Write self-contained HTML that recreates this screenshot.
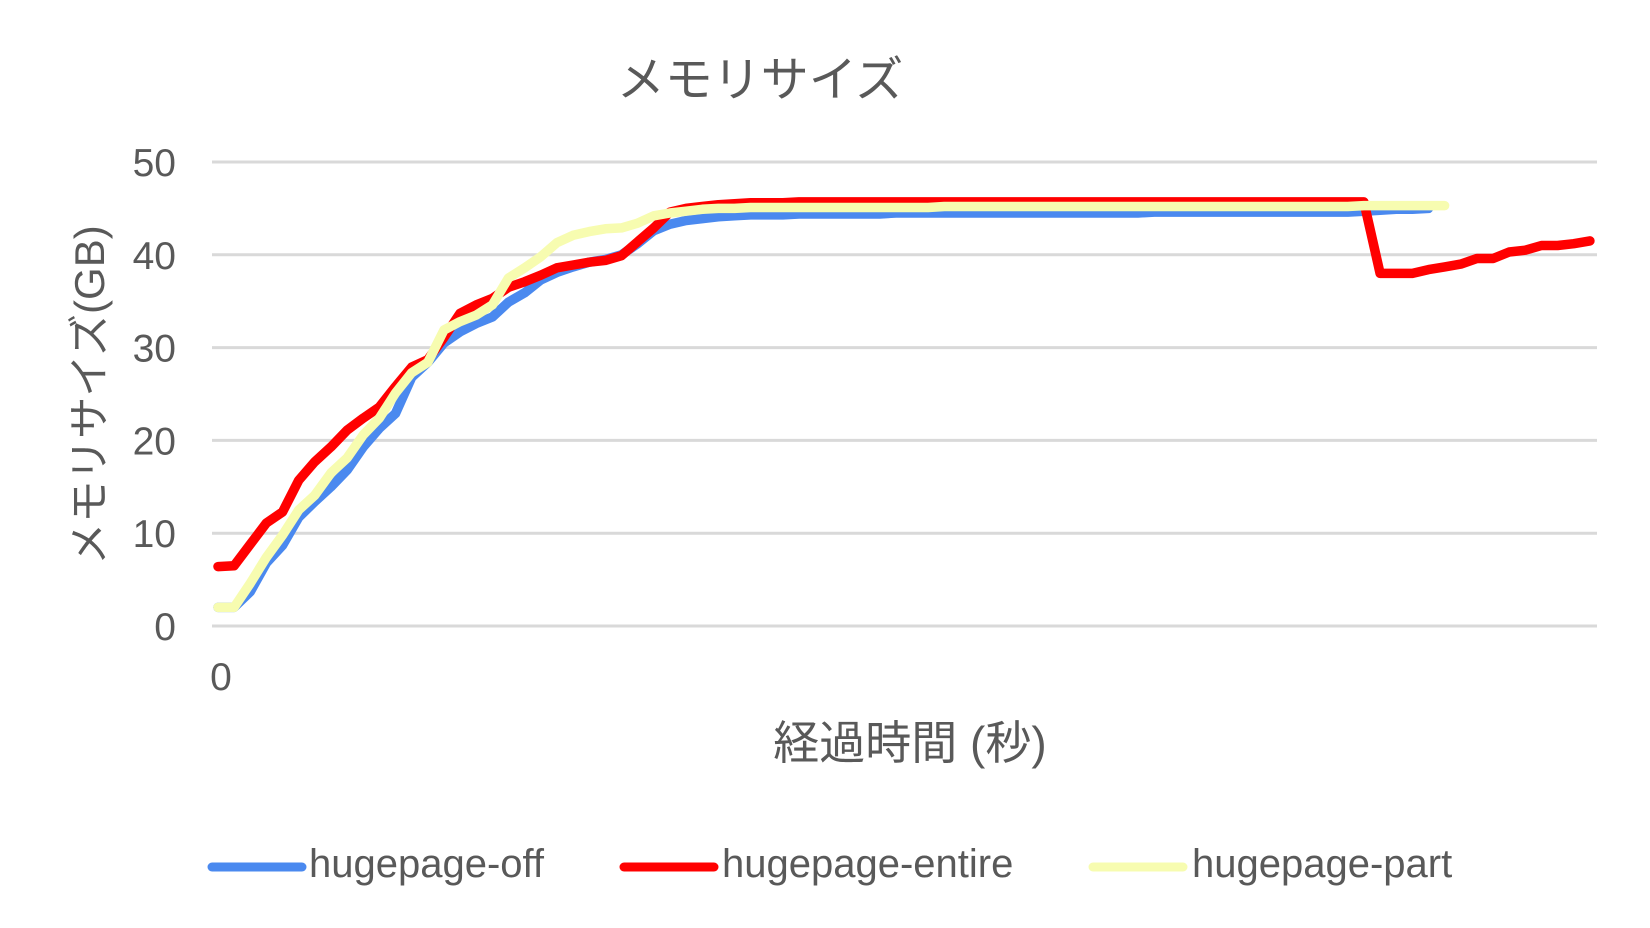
<!DOCTYPE html>
<html><head><meta charset="utf-8"><style>
html,body{margin:0;padding:0;background:#fff;}
svg{display:block;font-family:"Liberation Sans","Noto Sans CJK JP",sans-serif;}
</style></head><body>
<svg id="chart" width="1650" height="928" viewBox="0 0 1650 928">
<text x="760" y="96" font-size="48" fill="#595959" text-anchor="middle">メモリサイズ</text>
<g id="grid"></g>
<g id="yticks"></g>
<text x="221" y="690" font-size="39" fill="#595959" text-anchor="middle">0</text>
<text x="910" y="759" font-size="46" fill="#595959" text-anchor="middle">経過時間 (秒)</text>
<text transform="translate(104,395) rotate(-90)" font-size="42" fill="#595959" text-anchor="middle">メモリサイズ(GB)</text>
<g id="series"></g>
<g>
<g><line x1="212" y1="867" x2="302" y2="867" stroke="#4a89ef" stroke-width="9" stroke-linecap="round"/><text x="309" y="877" font-size="40" fill="#595959">hugepage-off</text></g>
<g><line x1="624" y1="867" x2="714" y2="867" stroke="#ff0000" stroke-width="9" stroke-linecap="round"/><text x="722" y="877" font-size="40" fill="#595959">hugepage-entire</text></g>
<g><line x1="1093" y1="867" x2="1183" y2="867" stroke="#f7fcb0" stroke-width="9" stroke-linecap="round"/><text x="1192" y="877" font-size="40" fill="#595959">hugepage-part</text></g>
</g>
</svg>
<script>
const yTicks = [0, 10, 20, 30, 40, 50];
const offVals = [2.0,2.0,3.7,6.8,8.7,11.7,13.4,15.0,16.8,19.3,21.3,22.9,26.8,28.4,30.5,31.7,32.6,33.3,34.9,35.9,37.3,38.1,38.7,39.2,39.5,40.0,41.2,42.6,43.3,43.7,43.9,44.1,44.2,44.3,44.3,44.3,44.4,44.4,44.4,44.4,44.4,44.4,44.5,44.5,44.5,44.5,44.5,44.5,44.5,44.5,44.5,44.5,44.5,44.5,44.5,44.5,44.5,44.5,44.6,44.6,44.6,44.6,44.6,44.6,44.6,44.6,44.6,44.6,44.6,44.6,44.6,44.7,44.8,44.9,44.9,45.0];
const entireVals = [6.4,6.5,8.8,11.1,12.3,15.7,17.7,19.3,21.1,22.4,23.6,25.8,27.9,28.7,31.1,33.7,34.6,35.3,36.5,37.1,37.8,38.6,38.9,39.2,39.4,39.9,41.4,42.9,44.6,45.0,45.2,45.4,45.5,45.6,45.6,45.6,45.7,45.7,45.7,45.7,45.7,45.7,45.7,45.7,45.7,45.7,45.7,45.7,45.7,45.7,45.7,45.7,45.7,45.7,45.7,45.7,45.7,45.7,45.7,45.7,45.7,45.7,45.7,45.7,45.7,45.7,45.7,45.7,45.7,45.7,45.7,45.7,38.0,38.0,38.0,38.4,38.7,39.0,39.6,39.6,40.3,40.5,41.0,41.0,41.2,41.5];
const partVals = [2.0,2.0,4.6,7.4,9.8,12.5,14.1,16.5,18.1,20.6,22.4,25.1,27.3,28.4,31.9,32.8,33.5,34.6,37.5,38.6,39.8,41.3,42.1,42.5,42.8,42.9,43.4,44.2,44.5,44.7,44.9,45.0,45.0,45.1,45.1,45.1,45.1,45.1,45.1,45.1,45.1,45.1,45.1,45.1,45.1,45.2,45.2,45.2,45.2,45.2,45.2,45.2,45.2,45.2,45.2,45.2,45.2,45.2,45.2,45.2,45.2,45.2,45.2,45.2,45.2,45.2,45.2,45.2,45.2,45.2,45.2,45.3,45.3,45.3,45.3,45.3,45.3];

const NS='http://www.w3.org/2000/svg';
const x0=218, xStep=16.14, plotL=212, plotR=1597;
const yScale=v=>626-v*9.28;
const xScale=i=>x0+i*xStep;
const grid=document.getElementById('grid'), yt=document.getElementById('yticks'), ser=document.getElementById('series');
yTicks.forEach(t=>{
  const l=document.createElementNS(NS,'line');
  l.setAttribute('x1',plotL);l.setAttribute('x2',plotR);
  l.setAttribute('y1',yScale(t));l.setAttribute('y2',yScale(t));
  l.setAttribute('stroke','#d9d9d9');l.setAttribute('stroke-width','3');
  
  
  grid.appendChild(l);
  const tx=document.createElementNS(NS,'text');
  tx.setAttribute('x',176);tx.setAttribute('y',yScale(t)+14);
  tx.setAttribute('font-size','39');tx.setAttribute('fill','#595959');tx.setAttribute('text-anchor','end');
  tx.textContent=t;
  
  
  yt.appendChild(tx);
});
function draw(vals,color,name){
  const p=document.createElementNS(NS,'polyline');
  p.setAttribute('points',vals.map((v,i)=>xScale(i).toFixed(1)+','+yScale(v).toFixed(1)).join(' '));
  p.setAttribute('fill','none');p.setAttribute('stroke',color);p.setAttribute('stroke-width','9.5');
  p.setAttribute('stroke-linejoin','round');p.setAttribute('stroke-linecap','round');
  
  
  ser.appendChild(p);
}
draw(offVals,'#4a89ef','line-hugepage-off');
draw(entireVals,'#ff0000','line-hugepage-entire');
draw(partVals,'#f7fcb0','line-hugepage-part');
</script>
</body></html>
